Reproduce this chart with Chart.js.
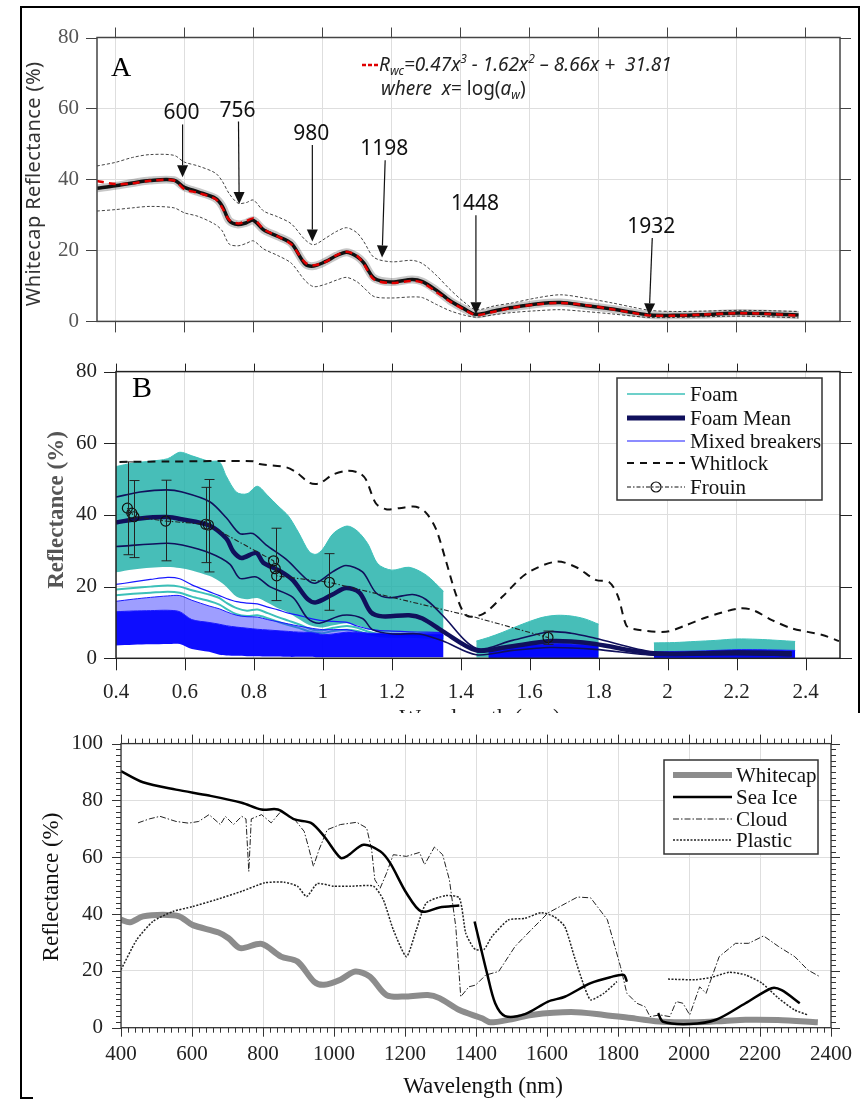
<!DOCTYPE html>
<html>
<head>
<meta charset="utf-8">
<title>Whitecap reflectance</title>
<script src="https://cdn.jsdelivr.net/npm/chart.js"></script>
<style>
  html, body { margin: 0; padding: 0; background: #fff; }
  body { position: relative; width: 866px; height: 1103px; overflow: hidden; }
  canvas { position: absolute; left: 0; }
  #cA { top: 0; }
  #cB { top: 340px; }
  #cC { top: 713px; }
  .rule { position: absolute; background: #000; }
</style>
</head>
<body>
<canvas id="cA" width="866" height="352"></canvas>
<canvas id="cB" width="866" height="373"></canvas>
<canvas id="cC" width="866" height="390"></canvas>
<div class="rule" style="left:20px;top:6px;width:840px;height:2px"></div>
<div class="rule" style="left:20px;top:6px;width:2px;height:1093px"></div>
<div class="rule" style="left:858px;top:6px;width:2px;height:707px"></div>
<div class="rule" style="left:20px;top:1097px;width:13px;height:2px"></div>
<script>
'use strict';

// ── 공통 눈금 ─────────────────────────────────────────
const UM_TICKS   = [0.4, 0.6, 0.8, 1.0, 1.2, 1.4, 1.6, 1.8, 2.0, 2.2, 2.4];
const UM_LABELS  = ['0.4', '0.6', '0.8', '1', '1.2', '1.4', '1.6', '1.8', '2', '2.2', '2.4'];
const R80_TICKS  = [0, 20, 40, 60, 80];
const R80_LABELS = ['0', '20', '40', '60', '80'];
const NM_TICKS   = [400, 600, 800, 1000, 1200, 1400, 1600, 1800, 2000, 2200, 2400];
const NM_LABELS  = ['400', '600', '800', '1000', '1200', '1400', '1600', '1800', '2000', '2200', '2400'];
const R100_TICKS  = [0, 20, 40, 60, 80, 100];
const R100_LABELS = ['0', '20', '40', '60', '80', '100'];

// ── A: whitecap 평균 반사율 (µm) ───────────────────────
const aWl    = [0.347,0.40,0.45,0.50,0.57,0.60,0.64,0.69,0.71,0.73,0.756,0.78,0.80,0.83,0.87,0.91,0.95,0.975,1.01,1.04,1.07,1.10,1.12,1.15,1.20,1.26,1.29,1.33,1.37,1.41,1.445,1.50,1.55,1.62,1.69,1.76,1.84,1.90,1.95,2.02,2.10,2.21,2.30,2.38];
const aMean  = [37.5,38.2,39.0,39.7,39.8,37.8,36.5,34.7,32.5,28.4,27.3,27.8,28.5,25.8,24.0,22.0,16.2,15.6,16.9,18.5,19.5,18.3,16.5,12.2,11.1,11.8,11.2,8.8,5.8,3.6,2.0,3.0,3.9,4.9,5.3,4.5,3.5,2.5,1.8,1.7,1.9,2.4,2.1,1.8];
const aFit   = [39.6,38.7,38.9,39.6,39.7,37.3,36.2,34.5,32.0,28.6,27.6,28.3,29.0,26.0,24.0,21.7,16.6,15.8,16.8,18.6,19.6,18.5,16.2,11.8,10.8,11.4,10.9,8.3,5.6,3.4,1.8,2.8,3.8,4.8,5.2,4.6,3.4,2.4,1.7,1.6,1.9,2.3,2.1,1.6];
const aUpper = [43.8,44.8,46.2,47.0,46.8,44.9,43.8,41.8,39.5,36.0,33.3,33.5,34.2,31.1,29.5,27.5,23.0,21.6,23.5,25.3,26.4,25.0,22.5,18.0,16.8,17.2,16.3,13.0,9.0,5.5,3.3,4.4,5.2,6.6,7.5,6.6,5.2,4.0,3.1,2.8,2.9,3.1,3.0,2.8];
const aLower = [31.1,31.5,32.0,32.4,32.0,30.6,29.6,27.3,25.5,21.8,21.3,22.0,22.7,20.4,18.6,16.4,11.5,9.8,10.5,11.6,12.4,11.2,9.5,7.0,6.6,6.9,6.7,4.8,3.0,1.8,1.2,1.9,2.5,3.0,3.3,2.8,2.1,1.5,1.1,1.1,1.3,1.5,1.3,1.0];

// 흡수 밴드 화살표
const arrowLabels = ['600', '756', '980', '1198', '1448', '1932'];
const arrowTopX   = [0.595, 0.757, 0.971, 1.182, 1.445, 1.956];
const arrowTopY   = [55.5, 56.3, 49.7, 45.4, 29.9, 23.5];
const arrowTipX   = [0.595, 0.759, 0.971, 1.173, 1.445, 1.947];
const arrowTipY   = [40.6, 33.1, 22.5, 18.0, 2.0, 1.7];

// ── B: foam / mixed breakers (µm) ─────────────────────
const bSeg1     = [0.40,0.45,0.50,0.55,0.585,0.62,0.67,0.70,0.72,0.75,0.78,0.81,0.84,0.87,0.90,0.93,0.96,0.98,1.00,1.03,1.07,1.10,1.13,1.16,1.20,1.25,1.30,1.35];
const foamTop1  = [53.5,54.5,55.0,55.7,57.5,56.5,55.0,54.8,50.8,46.3,45.9,48.0,45.4,42.5,39.7,35.0,29.8,29.0,30.5,34.8,36.9,35.5,32.0,26.3,24.6,25.4,23.2,18.7];
const foamLow1  = [24.0,24.8,25.3,25.5,25.2,24.5,23.0,21.5,20.0,17.2,16.5,16.8,15.5,14.0,12.8,11.0,9.3,8.8,8.6,9.2,9.8,9.2,8.2,7.5,7.2,7.2,7.0,6.8];
const foamA1    = [19.2,19.6,20.0,20.3,20.0,19.0,17.8,16.8,15.5,14.0,13.3,13.6,12.6,11.5,10.5,9.5,8.3,7.8,7.8,8.5,9.0,8.5,7.5,6.8,6.5,6.5,6.3,6.0];
const foamA2    = [17.6,18.0,18.3,18.6,18.3,17.2,16.0,15.0,13.8,12.3,11.8,12.0,11.2,10.2,9.3,8.5,7.5,7.1,7.0,7.6,8.0,7.6,6.8,6.2,6.0,6.0,5.8,5.5];
const mixL1     = [20.6,21.3,22.0,22.6,22.2,20.5,18.6,17.5,16.7,15.8,15.4,15.2,14.3,13.5,12.6,12.0,11.2,10.8,10.5,10.3,10.0,9.0,8.2,7.8,7.6,7.4,7.3,7.2];
const mixL2     = [15.9,16.5,17.0,17.4,17.5,16.2,14.6,13.8,13.0,12.0,11.6,11.5,10.8,10.2,9.6,9.0,8.5,8.2,8.0,8.0,8.0,7.4,7.0,6.7,6.5,6.4,6.3,6.3];
const mixTop1   = [13.0,13.2,13.3,13.4,13.0,10.8,10.0,9.5,9.1,8.7,8.4,8.1,7.9,7.7,7.5,7.3,7.2,7.0,6.6,6.8,7.3,7.2,7.0,7.0,7.0,7.0,7.0,7.0];
const mixBot1   = [3.6,3.8,3.9,4.0,4.0,2.6,1.8,1.0,0.8,0.7,0.6,0.6,0.5,0.5,0.4,0.4,0.4,0.3,0.3,0.3,0.3,0.3,0.3,0.3,0.3,0.3,0.3,0.3];

const bSeg2     = [1.445,1.48,1.52,1.56,1.60,1.64,1.68,1.72,1.76,1.80];
const foamTop2  = [4.8,5.8,7.2,8.8,10.3,11.5,12.0,11.8,11.0,9.5];
const foamLow2  = [0.2,0.2,0.3,0.4,0.5,0.5,0.5,0.5,0.5,0.4];
const bSeg2m    = [1.48,1.52,1.56,1.60,1.64,1.68,1.72,1.76,1.80];
const mixTop2   = [2.6,3.0,3.4,3.8,4.0,4.1,4.0,3.8,3.5];
const mixBot2   = [0.1,0.1,0.1,0.1,0.1,0.1,0.1,0.1,0.1];

const bSeg3     = [1.96,2.02,2.08,2.14,2.20,2.26,2.32,2.37];
const foamTop3  = [4.3,4.4,4.7,5.0,5.4,5.3,5.0,4.7];
const foamLow3  = [0.3,0.3,0.3,0.3,0.3,0.3,0.3,0.3];
const mixTop3   = [1.8,1.9,2.0,2.2,2.4,2.4,2.3,2.2];
const mixBot3   = [0.1,0.1,0.1,0.1,0.1,0.1,0.1,0.1];

const meanX  = [0.40,0.47,0.547,0.59,0.672,0.72,0.74,0.764,0.807,0.827,0.875,0.913,0.956,0.98,1.028,1.067,1.106,1.139,1.173,1.25,1.289,1.347,1.445,1.53,1.66,1.72,1.79,1.96,2.10,2.20,2.36];
const meanY  = [37.9,39.0,39.4,38.8,37.0,33.4,29.8,28.0,29.4,26.7,24.4,21.8,16.5,15.6,17.8,19.6,18.3,12.9,11.7,12.0,11.1,7.6,2.2,3.1,4.8,4.7,4.0,1.3,1.4,1.5,1.1];
const plusX  = [0.40,0.47,0.547,0.592,0.672,0.72,0.759,0.797,0.836,0.894,0.956,0.98,1.028,1.067,1.115,1.154,1.193,1.26,1.299,1.347,1.445,1.55,1.658,1.72,1.79,1.96,2.2,2.36];
const plusY  = [45.0,46.4,47.0,46.4,43.7,39.2,34.8,34.8,31.6,27.6,21.8,21.0,24.1,25.9,24.1,18.3,16.9,17.8,16.4,12.0,2.8,5.0,7.4,7.0,5.6,1.8,2.0,1.8];
const minusX = [0.40,0.547,0.592,0.672,0.73,0.759,0.807,0.846,0.913,0.956,0.99,1.057,1.115,1.144,1.202,1.28,1.347,1.445,1.55,1.658,1.79,1.96,2.2,2.36];
const minusY = [31.2,32.1,31.6,29.4,26.3,22.3,22.7,20.0,17.0,11.1,9.8,12.0,11.1,8.0,6.8,6.8,4.9,1.0,2.2,3.0,2.5,0.9,1.0,0.8];

const whitX = [0.41,0.547,0.797,0.816,0.894,0.923,0.961,0.99,1.028,1.071,1.106,1.125,1.154,1.183,1.222,1.27,1.30,1.328,1.357,1.388,1.417,1.465,1.522,1.59,1.677,1.735,1.793,1.83,1.856,1.88,1.90,1.995,2.053,2.111,2.207,2.246,2.304,2.362,2.449,2.497];
const whitY = [54.8,54.9,55.0,54.2,53.3,51.9,49.0,48.8,51.2,52.3,51.7,49.9,43.2,41.6,41.9,42.3,40.5,36.1,27.2,17.3,11.9,12.4,17.3,23.6,27.0,25.4,21.8,21.3,17.3,9.2,8.2,7.4,9.2,11.4,13.9,13.5,10.6,8.3,6.5,4.8];

const frouinX    = [0.433,0.446,0.452,0.544,0.660,0.668,0.857,0.862,0.866,1.019,1.44,1.653];
const frouinY    = [41.9,40.5,39.5,38.3,37.4,37.2,27.2,25.0,23.0,21.2,11.5,5.8];
const frouinMark = [5,5,5,5,5,5,5,5,5,5,0,5];
const errX  = [0.436,0.452,0.544,0.660,0.670,0.865,1.019,1.653];
const errLo = [28.9,28.1,27.2,26.7,24.1,16.1,13.4,3.9];
const errHi = [54.8,49.6,49.7,47.7,49.9,36.3,29.2,7.6];

// ── C: 표면별 반사율 (nm) ──────────────────────────────
const wcX = [400,425,462,518,564,601,675,703,736,796,851,897,944,972,1018,1060,1101,1148,1204,1264,1297,1353,1417,1440,1500,1556,1668,1761,1850,1927,2020,2100,2159,2250,2363];
const wcY = [38.0,37.1,39.2,39.8,39.2,36.2,33.5,31.5,28.0,29.5,25.0,23.3,16.2,15.1,16.9,19.8,18.0,11.5,11.0,11.5,10.4,6.2,3.3,1.9,3.0,4.5,5.5,4.5,3.2,2.1,1.9,2.4,2.8,2.7,1.9];

const iceX1 = [400,462,555,648,740,796,842,889,935,972,1018,1037,1083,1130,1158,1204,1246,1297,1353];
const iceY1 = [90.3,86.4,83.8,81.7,79.2,76.8,76.8,73.3,72.1,67.4,59.8,60.4,64.4,62.1,58.0,47.4,40.9,42.3,43.0];
const iceX2 = [1396,1431,1454,1482,1538,1603,1650,1723,1779,1816,1825];
const iceY2 = [37.4,19.2,8.6,4.1,4.8,9.2,10.9,15.7,17.8,18.6,16.2];
const iceX3 = [1913,1927,2002,2076,2159,2233,2261,2312];
const iceY3 = [5.1,2.1,1.3,2.8,8.6,13.9,13.2,8.6];

const cloudX = [448,480,510,555,590,619,648,680,694,717,740,752,760,767,796,823,851,889,916,930,942,958,981,1018,1064,1092,1106,1115,1130,1148,1167,1204,1241,1255,1283,1306,1325,1343,1357,1380,1399,1427,1464,1510,1556,1603,1640,1686,1723,1770,1807,1825,1853,1876,1890,1918,1946,1964,1983,2002,2030,2048,2085,2131,2168,2210,2252,2298,2335,2368];
const cloudY = [72.1,73.5,74.4,72.6,72.0,72.6,75.0,71.5,74.4,71.5,74.4,73.5,55.0,73.5,75.0,72.1,76.2,73.3,69.1,62.7,56.8,62.7,69.7,71.5,72.3,70.3,62.7,52.1,49.1,54.4,60.9,60.3,61.7,57.4,63.6,60.9,52.1,35.6,10.9,14.4,15.0,18.5,19.8,28.6,34.5,40.4,42.9,46.0,45.7,38.0,21.5,12.1,8.6,7.4,3.9,4.5,3.9,9.2,8.6,4.5,14.4,12.1,25.0,29.7,29.7,32.3,28.6,25.0,20.3,18.0];

const plasX1 = [400,444,490,546,601,666,740,805,860,897,923,953,999,1046,1111,1139,1167,1204,1232,1260,1315,1353,1371,1390,1399,1422,1445,1491,1538,1584,1621,1650,1677,1705,1723,1760,1797];
const plasY1 = [20.4,30.9,37.4,40.9,42.6,45.0,48.0,51.0,51.2,49.8,46.2,50.7,49.8,49.8,49.8,45.0,34.5,25.0,34.5,43.9,46.5,45.7,33.3,28.6,27.5,27.5,32.1,37.9,38.5,40.5,39.0,35.6,25.0,14.5,9.8,12.1,16.2];
const plasX2 = [1941,2020,2066,2113,2159,2205,2252,2298,2335];
const plasY2 = [17.1,16.9,17.8,19.5,18.6,15.7,10.4,6.2,4.5];

// ── 스타일 ────────────────────────────────────────────
const SERIF = "'Liberation Serif', 'Times New Roman', serif";
const SANS  = "'Noto Sans', 'Open Sans', sans-serif";
const GRID  = '#dedede';
const TEAL_LINE = '#3cc0b9';
const TEAL_FILL = 'rgba(30,176,168,0.82)';
const BLUE_LINE = '#1a1aff';
const BLUE_FILL = 'rgba(0,0,255,0.95)';
const NAVY = '#10105c';

// ── 유틸 ──────────────────────────────────────────────
const pts = (xs, ys) => xs.map((x, i) => ({ x, y: ys[i] }));

function joinSegs(...segs) {
  const out = [];
  segs.forEach(([xs, ys], k) => {
    if (k) out.push({ x: xs[0], y: null });
    out.push(...pts(xs, ys));
  });
  return out;
}

function axisOpts(a, dir) {
  return {
    type: 'linear', min: a.min, max: a.max,
    afterBuildTicks: s => { s.ticks = a.ticks.map(value => ({ value })); },
    afterFit: s => { if (dir === 'x') s.height = a.size; else s.width = a.size; },
    grid: { color: GRID, lineWidth: 1, drawTicks: false },
    border: { display: false },
    ticks: {
      display: !!a.labels, autoSkip: false, maxRotation: 0, padding: a.pad || 0,
      callback: (v, i) => (a.labels ? a.labels[i] : ''),
      color: a.color || '#222',
      font: { family: SERIF, size: 21 },
    },
  };
}

function makeChart(id, cfg) {
  return new Chart(document.getElementById(id), {
    type: 'line',
    data: { datasets: cfg.datasets },
    options: {
      responsive: false, animation: false, events: [], devicePixelRatio: 1,
      layout: { padding: cfg.padding },
      plugins: { legend: { display: false }, tooltip: { enabled: false } },
      scales: { x: axisOpts(cfg.x, 'x'), y: axisOpts(cfg.y, 'y') },
    },
    plugins: [{ id: id + 'Deco', afterDatasetsDraw: cfg.deco }],
  });
}

function line(data, o) {
  return Object.assign({ data, borderColor: '#000', borderWidth: 1, pointRadius: 0, fill: false, tension: 0 }, o);
}

// 테두리 + 바깥쪽 눈금
function drawFrame(chart, f) {
  const { ctx, chartArea: a, scales: { x, y } } = chart;
  ctx.save();
  ctx.strokeStyle = f.color;
  ctx.lineWidth = 1;
  ctx.beginPath();
  f.x.forEach(([vals, len]) => vals.forEach(v => {
    const p = Math.round(x.getPixelForValue(v)) + 0.5;
    ctx.moveTo(p, a.top);    ctx.lineTo(p, a.top - len[0]);
    ctx.moveTo(p, a.bottom); ctx.lineTo(p, a.bottom + len[1]);
  }));
  f.y.forEach(([vals, len]) => vals.forEach(v => {
    const p = Math.round(y.getPixelForValue(v)) + 0.5;
    ctx.moveTo(a.left, p);  ctx.lineTo(a.left - len[0], p);
    ctx.moveTo(a.right, p); ctx.lineTo(a.right + len[1], p);
  }));
  ctx.stroke();
  ctx.lineWidth = f.width;
  ctx.strokeRect(a.left, a.top, a.right - a.left, a.bottom - a.top);
  ctx.restore();
}

function drawLegend(ctx, L) {
  ctx.save();
  ctx.fillStyle = '#fff';
  ctx.fillRect(L.x, L.y, L.w, L.h);
  ctx.strokeStyle = '#333';
  ctx.lineWidth = 1.5;
  ctx.strokeRect(L.x, L.y, L.w, L.h);
  L.items.forEach((it, i) => {
    const yy = L.rows[i];
    ctx.save();
    ctx.strokeStyle = it.color;
    ctx.lineWidth = it.width;
    ctx.setLineDash(it.dash || []);
    ctx.beginPath(); ctx.moveTo(L.x1, yy); ctx.lineTo(L.x2, yy); ctx.stroke();
    if (it.marker) {
      ctx.setLineDash([]);
      ctx.lineWidth = 1.2;
      ctx.beginPath(); ctx.arc((L.x1 + L.x2) / 2, yy, 5, 0, Math.PI * 2); ctx.stroke();
    }
    ctx.restore();
    ctx.font = '21px ' + SERIF;
    ctx.fillStyle = '#111';
    ctx.textBaseline = 'middle';
    ctx.fillText(it.label, L.tx, yy + 1);
  });
  ctx.restore();
}

function vText(ctx, text, cx, cy, font, color, spacing) {
  ctx.save();
  ctx.translate(cx, cy);
  ctx.rotate(-Math.PI / 2);
  ctx.font = font; ctx.fillStyle = color;
  if (spacing) ctx.letterSpacing = spacing;
  ctx.textAlign = 'center'; ctx.textBaseline = 'middle';
  ctx.fillText(text, 0, 0);
  ctx.restore();
}

function richText(ctx, x, y, parts) {
  parts.forEach(([t, font, dy]) => {
    ctx.font = font;
    ctx.fillText(t, x, y + (dy || 0));
    x += ctx.measureText(t).width;
  });
}

// ── 패널 A ───────────────────────────────────────────
function decoA(chart) {
  const { ctx, scales: { x, y } } = chart;
  drawFrame(chart, { color: '#444', width: 1.5, x: [[UM_TICKS, [10, 11]]], y: [[R80_TICKS, [11, 11]]] });

  ctx.save();
  ctx.strokeStyle = '#111'; ctx.fillStyle = '#111'; ctx.lineWidth = 1.2;
  arrowLabels.forEach((lbl, i) => {
    const x0 = x.getPixelForValue(arrowTopX[i]), y0 = y.getPixelForValue(arrowTopY[i]);
    const x1 = x.getPixelForValue(arrowTipX[i]), y1 = y.getPixelForValue(arrowTipY[i]);
    const ang = Math.atan2(y1 - y0, x1 - x0);
    const hl = 12, hw = 5.5;
    const bx = x1 - hl * Math.cos(ang), by = y1 - hl * Math.sin(ang);
    ctx.beginPath(); ctx.moveTo(x0, y0); ctx.lineTo(bx, by); ctx.stroke();
    ctx.beginPath();
    ctx.moveTo(x1, y1);
    ctx.lineTo(bx + hw * Math.sin(ang), by - hw * Math.cos(ang));
    ctx.lineTo(bx - hw * Math.sin(ang), by + hw * Math.cos(ang));
    ctx.closePath(); ctx.fill();
    ctx.font = '21px ' + SANS;
    ctx.textAlign = 'center'; ctx.textBaseline = 'alphabetic';
    ctx.fillText(lbl, x0 - 1, y0 - 5);
  });
  ctx.restore();

  // 회귀식
  ctx.save();
  ctx.strokeStyle = '#e00000'; ctx.lineWidth = 2.5; ctx.setLineDash([4, 2]);
  ctx.beginPath(); ctx.moveTo(362, 65); ctx.lineTo(378, 65); ctx.stroke();
  ctx.fillStyle = '#222';
  const it = 'italic 19px ' + SANS, itS = 'italic 12px ' + SANS, up = '19px ' + SANS;
  richText(ctx, 379, 71, [['R', it], ['wc', itS, 4], ['=0.47x', it], ['3', itS, -8], [' - 1.62x', it], ['2', itS, -8], [' \u2013 8.66x +  31.81', it]]);
  richText(ctx, 381, 95, [['where  x', it], ['= log(', up], ['a', it], ['w', itS, 4], [')', up]]);
  ctx.font = '28px ' + SERIF; ctx.fillStyle = '#000';
  ctx.fillText('A', 111, 76);
  ctx.restore();

  vText(ctx, 'Whitecap Reflectance (%)', 34, 184, '20px ' + SANS, '#333', '0.4px');
}

makeChart('cA', {
  padding: { top: 37.5, right: 26, bottom: 0, left: 0 },
  x: { min: 0.347, max: 2.5, ticks: UM_TICKS, size: 13.7 },
  y: { min: 0, max: 80, ticks: R80_TICKS, labels: R80_LABELS, size: 97, pad: 18, color: '#555' },
  datasets: [
    line(pts(aWl, aFit),   { borderColor: '#e00000', borderWidth: 2.5, borderDash: [7, 5], tension: 0.3, order: 0 }),
    line(pts(aWl, aMean),  { borderColor: '#111', borderWidth: 3.5, tension: 0.3, order: 1 }),
    line(pts(aWl, aMean),  { borderColor: 'rgba(0,0,0,0.22)', borderWidth: 8, tension: 0.3, order: 2 }),
    line(pts(aWl, aUpper), { borderColor: '#444', borderWidth: 1, borderDash: [3, 2], tension: 0.3, order: 3 }),
    line(pts(aWl, aLower), { borderColor: '#444', borderWidth: 1, borderDash: [3, 2], tension: 0.3, order: 3 }),
  ],
  deco: decoA,
});

// ── 패널 B ───────────────────────────────────────────
const dsB = [];
function addB(ds) { dsB.push(ds); return dsB.length - 1; }
function bandB(xs, top, bottom, lineColor, fillColor, order) {
  const lo = addB(line(pts(xs, bottom), { borderWidth: 0, tension: 0.3, order }));
  addB(line(pts(xs, top), { borderColor: lineColor, borderWidth: 1, backgroundColor: fillColor, fill: lo, tension: 0.3, order }));
}

bandB(bSeg1, foamTop1, foamLow1, TEAL_LINE, TEAL_FILL, 8);
bandB(bSeg2, foamTop2, foamLow2, TEAL_LINE, TEAL_FILL, 8);
bandB(bSeg3, foamTop3, foamLow3, TEAL_LINE, TEAL_FILL, 8);
addB(line(pts(bSeg1, foamA1), { borderColor: TEAL_LINE, borderWidth: 2, tension: 0.3, order: 7 }));
addB(line(pts(bSeg1, foamA2), { borderColor: TEAL_LINE, borderWidth: 2, tension: 0.3, order: 7 }));
bandB(bSeg1, mixL2, mixTop1, BLUE_LINE, 'rgba(40,40,255,0.45)', 6);
bandB(bSeg1, mixTop1, mixBot1, BLUE_LINE, BLUE_FILL, 5);
bandB(bSeg2m, mixTop2, mixBot2, BLUE_LINE, BLUE_FILL, 5);
bandB(bSeg3, mixTop3, mixBot3, BLUE_LINE, BLUE_FILL, 5);
addB(line(pts(bSeg1, mixL1), { borderColor: BLUE_LINE, borderWidth: 1.2, tension: 0.3, order: 4 }));
addB(line(pts(plusX, plusY),   { borderColor: NAVY, borderWidth: 1.6, tension: 0.3, order: 3 }));
addB(line(pts(minusX, minusY), { borderColor: NAVY, borderWidth: 1.6, tension: 0.3, order: 3 }));
addB(line(pts(meanX, meanY),   { borderColor: NAVY, borderWidth: 4.5, tension: 0.3, order: 2 }));
addB(line(pts(whitX, whitY),   { borderColor: '#111', borderWidth: 2, borderDash: [8, 6], tension: 0.3, order: 1 }));
addB(line(pts(frouinX, frouinY), {
  borderColor: '#222', borderWidth: 1.1, borderDash: [5, 2, 1.5, 2], order: 0,
  pointRadius: frouinMark, pointStyle: 'circle', pointBorderColor: '#111',
  pointBackgroundColor: 'rgba(0,0,0,0)', pointBorderWidth: 1.2,
}));

function decoB(chart) {
  const { ctx, scales: { x, y } } = chart;
  ctx.save();
  ctx.strokeStyle = '#222'; ctx.lineWidth = 1;
  ctx.beginPath();
  errX.forEach((v, i) => {
    const px = Math.round(x.getPixelForValue(v)) + 0.5;
    const t = y.getPixelForValue(errHi[i]), b = y.getPixelForValue(errLo[i]);
    ctx.moveTo(px, t); ctx.lineTo(px, b);
    ctx.moveTo(px - 5, t); ctx.lineTo(px + 5, t);
    ctx.moveTo(px - 5, b); ctx.lineTo(px + 5, b);
  });
  ctx.stroke();
  ctx.restore();

  drawFrame(chart, { color: '#222', width: 1.5, x: [[UM_TICKS, [8, 12]]], y: [[R80_TICKS, [12, 12]]] });
  drawLegend(ctx, {
    x: 617, y: 38, w: 205, h: 122, x1: 627, x2: 685, tx: 690,
    rows: [54, 78, 101, 123, 147],
    items: [
      { label: 'Foam', color: TEAL_LINE, width: 1.5 },
      { label: 'Foam Mean', color: NAVY, width: 5 },
      { label: 'Mixed breakers', color: BLUE_LINE, width: 1.2 },
      { label: 'Whitlock', color: '#111', width: 2, dash: [7, 6] },
      { label: 'Frouin', color: '#111', width: 1.1, dash: [4, 2, 1.5, 2], marker: true },
    ],
  });
  ctx.save();
  ctx.font = '30px ' + SERIF; ctx.fillStyle = '#000';
  ctx.fillText('B', 132, 57);
  ctx.font = '23px ' + SERIF; ctx.fillStyle = '#222'; ctx.textAlign = 'center';
  ctx.fillText('Wavelength (\u00b5m)', 480, 385);
  ctx.restore();
  vText(ctx, 'Reflectance (%)', 57, 170, 'bold 23px ' + SERIF, '#555');
}

makeChart('cB', {
  padding: { top: 21, right: 26, bottom: 0, left: 0 },
  x: { min: 0.4, max: 2.5, ticks: UM_TICKS, labels: UM_LABELS, size: 54.7, pad: 22 },
  y: { min: 0, max: 80, ticks: R80_TICKS, labels: R80_LABELS, size: 116, pad: 19 },
  datasets: dsB,
  deco: decoB,
});

// ── 패널 C ───────────────────────────────────────────
const nmMinor = [];
for (let v = 400; v <= 2400; v += 20) nmMinor.push(v);
const pctMinor = [];
for (let v = 0; v <= 100; v += 2) pctMinor.push(v);

function decoC(chart) {
  const { ctx } = chart;
  drawFrame(chart, {
    color: '#333', width: 1.3,
    x: [[nmMinor, [5, 5]], [NM_TICKS, [9, 9]]],
    y: [[pctMinor, [5, 5]], [R100_TICKS, [9, 9]]],
  });
  drawLegend(ctx, {
    x: 664, y: 47, w: 154, h: 94, x1: 673, x2: 732, tx: 736,
    rows: [62, 84, 106, 127],
    items: [
      { label: 'Whitecap', color: '#8c8c8c', width: 6 },
      { label: 'Sea Ice', color: '#000', width: 2.5 },
      { label: 'Cloud', color: '#222', width: 1, dash: [6, 2, 1.5, 2] },
      { label: 'Plastic', color: '#222', width: 1.5, dash: [2, 1.5] },
    ],
  });
  ctx.save();
  ctx.font = '23px ' + SERIF; ctx.fillStyle = '#111';
  ctx.textAlign = 'center'; ctx.textBaseline = 'middle';
  ctx.fillText('Wavelength (nm)', 483, 374);
  ctx.restore();
  vText(ctx, 'Reflectance (%)', 52, 174, '23px ' + SERIF, '#111');
}

makeChart('cC', {
  padding: { top: 30.3, right: 29, bottom: 0, left: 0 },
  x: { min: 400, max: 2400, ticks: NM_TICKS, labels: NM_LABELS, size: 75.3, pad: 14 },
  y: { min: 0, max: 100, ticks: R100_TICKS, labels: R100_LABELS, size: 121, pad: 18 },
  datasets: [
    line(joinSegs([iceX1, iceY1], [iceX2, iceY2], [iceX3, iceY3]), { borderColor: '#000', borderWidth: 2.5, tension: 0.3, order: 0 }),
    line(pts(cloudX, cloudY), { borderColor: '#222', borderWidth: 1, borderDash: [6, 2, 1.5, 2], order: 1 }),
    line(joinSegs([plasX1, plasY1], [plasX2, plasY2]), { borderColor: '#222', borderWidth: 1.5, borderDash: [2, 1.5], tension: 0.2, order: 2 }),
    line(pts(wcX, wcY), { borderColor: '#8c8c8c', borderWidth: 6, tension: 0.3, order: 3 }),
  ],
  deco: decoC,
});
</script>
</body>
</html>
